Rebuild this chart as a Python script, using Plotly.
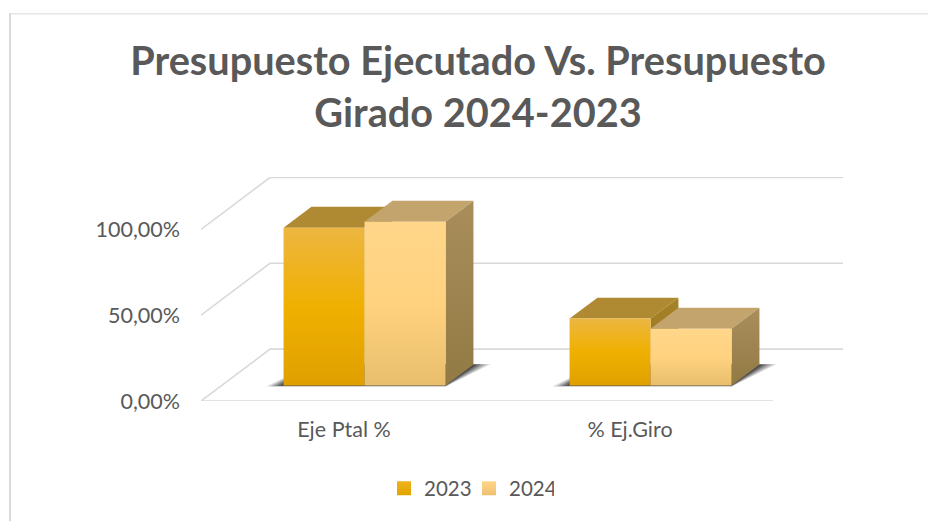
import plotly.graph_objects as go

categories = ["Eje Ptal %", "% Ej.Giro"]
series_names = ["2023", "2024"]
values_2023 = [0.92, 0.39]
values_2024 = [0.955, 0.331]
y_ticks = [0, 0.5, 1.0]

W, H = 928, 522
PL, PR, PT, PB = 201, 843, 177, 401.5       # plot-area pixel box
CAT_PX = 286.0                              # pixels per category
VAL_PX = 172.0                              # pixels per 100 %
XMAX = (PR - PL) / CAT_PX
YMAX = (PB - PT) / VAL_PX
DEPTH_X = 69 / CAT_PX                       # floor depth, category units
DEPTH_Y = 52 / VAL_PX                       # floor depth, value units
GAP = 62 / CAT_PX
BAR_W = (1 - 2 * GAP) / 2
D0, D1 = 0.298, 0.702                       # bar depth span on the floor

GRID = "#D9D9D9"
TXT = "#595959"
STYLE = {
    "2023": dict(front=[[0, "#DFA000"], [0.5, "#F0B000"], [1, "#EDB641"]],
                 top="#B08A32", side=[[0, "#94741F"], [1, "#A68227"]],
                 swatch=("#EFB21C", "#E3A500")),
    "2024": dict(front=[[0, "#E8BE6C"], [0.5, "#FFD27F"], [1, "#FFD68A"]],
                 top="#C2A46C", side=[[0, "#927A44"], [1, "#A98E5C"]],
                 swatch=("#FFD68A", "#EDC070")),
}


def proj(x, v, d):
    return x + d * DEPTH_X, v + d * DEPTH_Y


def poly(points, **kw):
    xs = [p[0] for p in points] + [points[0][0]]
    ys = [p[1] for p in points] + [points[0][1]]
    return go.Scatter(x=xs, y=ys, mode="lines", fill="toself", line=dict(width=0),
                      hoverinfo="skip", showlegend=False, cliponaxis=False, **kw)


fig = go.Figure()

# floor and walls: gridlines travel from the front plane to the back plane
for t in y_ticks:
    a, b = proj(0, t, 0), proj(0, t, 1)
    c = (XMAX, b[1])
    fig.add_trace(go.Scatter(x=[a[0], b[0], c[0]], y=[a[1], b[1], c[1]], mode="lines",
                             line=dict(color=GRID, width=1.6), hoverinfo="skip",
                             showlegend=False, cliponaxis=False))
fig.add_trace(go.Scatter(x=[0, len(categories)], y=[0, 0], mode="lines",
                         line=dict(color=GRID, width=1.6), hoverinfo="skip",
                         showlegend=False, cliponaxis=False))

# soft shadows under each pair of bars
for i in range(len(categories)):
    x0 = i + GAP
    x1 = x0 + 2 * BAR_W
    for e, alpha in [(0.062, 0.12), (0.052, 0.16), (0.04, 0.24), (0.026, 0.34), (0.012, 0.42)]:
        fl = proj(x0, 0, D0)
        fr = proj(x1, 0, D0)
        br = proj(x1, 0, D1)
        bl = proj(x0, 0, D1)
        low = e * 0.1
        fig.add_trace(poly([(fl[0] - e, fl[1] - low), (fr[0], fr[1] - low),
                            (br[0] + e, br[1] + low * 0.5), (bl[0], bl[1])],
                           fillcolor=f"rgba(30,30,30,{alpha})"))

# bars: painter's order, left to right
for i in range(len(categories)):
    for s, (name, vals) in enumerate(zip(series_names, [values_2023, values_2024])):
        v = vals[i]
        st = STYLE[name]
        x0 = i + GAP + s * BAR_W
        x1 = x0 + BAR_W
        ftl, ftr = proj(x0, v, D0), proj(x1, v, D0)
        fbl, fbr = proj(x0, 0, D0), proj(x1, 0, D0)
        btl, btr = proj(x0, v, D1), proj(x1, v, D1)
        bbr = proj(x1, 0, D1)
        fig.add_trace(poly([ftl, btl, btr, ftr], fillcolor=st["top"]))
        fig.add_trace(poly([ftr, btr, bbr, fbr],
                           fillgradient=dict(type="vertical", colorscale=st["side"])))
        fig.add_trace(poly([ftl, ftr, fbr, fbl],
                           fillgradient=dict(type="vertical", colorscale=st["front"])))

# legend entries
for name in series_names:
    c0, c1 = STYLE[name]["swatch"]
    fig.add_trace(go.Scatter(x=[None], y=[None], mode="markers", name=name,
                             marker=dict(symbol="square", size=14, color=c0,
                                         gradient=dict(type="vertical", color=c1)),
                             hoverinfo="skip"))

plot_w, plot_h = PR - PL, PB - PT
fx = lambda px: (px - PL) / plot_w
fy = lambda py: (PB - py) / plot_h

fig.update_layout(
    width=W, height=H,
    autosize=False,
    paper_bgcolor="white",
    plot_bgcolor="rgba(0,0,0,0)",
    separators=",.",
    font=dict(family="Lato, Carlito, sans-serif", color=TXT, size=20),
    margin=dict(l=PL, r=W - PR, t=PT, b=H - PB, pad=0),
    title=dict(text="Presupuesto Ejecutado Vs. Presupuesto<br>Girado 2024-2023",
               font=dict(size=39.7, color=TXT, family="Lato, Carlito, sans-serif", weight="bold"),
               x=478 / W, xanchor="center", y=1 - 75 / H, yanchor="top"),
    xaxis=dict(range=[0, XMAX], showgrid=False, zeroline=False, showline=False,
               tickmode="array", tickvals=[i + 0.5 for i in range(len(categories))],
               ticktext=categories, ticks="", tickfont=dict(size=21.5, color=TXT),
               ticklen=0, ticklabelstandoff=13),
    yaxis=dict(range=[0, YMAX], showgrid=False, zeroline=False, showline=False,
               tickmode="array", tickvals=y_ticks, tickformat=".2%", ticks="",
               tickfont=dict(size=21.5, color=TXT), ticklabelstandoff=20),
    legend=dict(orientation="h", x=fx(469), xanchor="center", y=fy(489), yanchor="middle",
                entrywidth=40, entrywidthmode="pixels",
                font=dict(size=20.5, color=TXT), bgcolor="rgba(0,0,0,0)"),
    shapes=[
        dict(type="line", xref="paper", yref="paper", x0=fx(9), x1=fx(W), y0=fy(13.5), y1=fy(13.5),
             line=dict(color=GRID, width=1), layer="below"),
        dict(type="line", xref="paper", yref="paper", x0=fx(10), x1=fx(10), y0=fy(13), y1=fy(H),
             line=dict(color=GRID, width=2), layer="below"),
    ],
)

fig.write_html("out.html", config={"displayModeBar": False},
               post_script="document.body.style.margin='0';")
